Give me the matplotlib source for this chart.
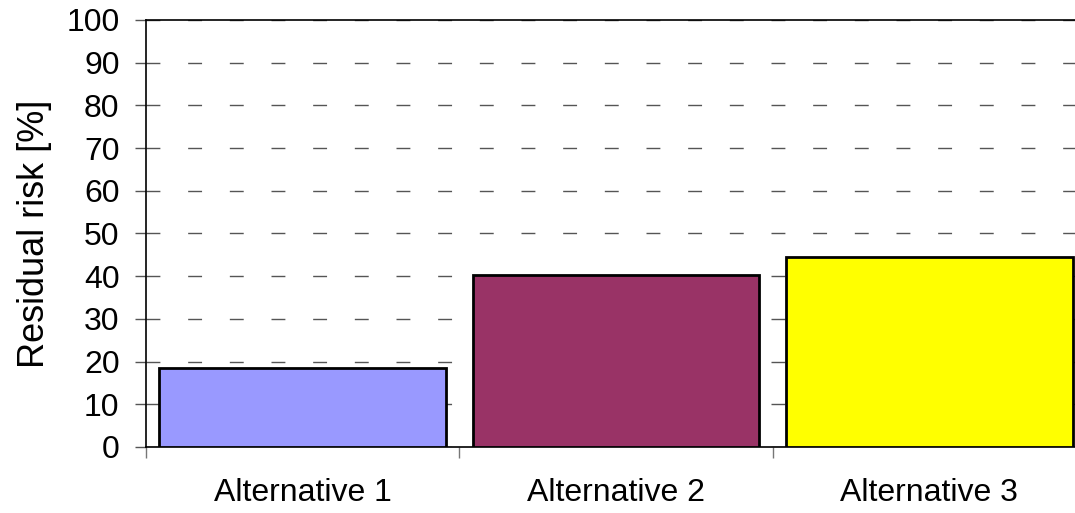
import matplotlib.pyplot as plt
import numpy as np

plt.rcParams['font.family'] = ['Liberation Sans', 'DejaVu Sans']

categories = ['Alternative 1', 'Alternative 2', 'Alternative 3']
residual_risk = [18.4, 40.3, 44.6]
bar_colors = ['#9999FF', '#993366', '#FFFF00']

fig = plt.figure(figsize=(10.75, 5.13), dpi=100)
# plot area runs slightly past the right edge of the canvas
ax = fig.add_axes([146 / 1075, 66 / 513, 940 / 1075, 427 / 513])

x = np.arange(len(categories))
ax.bar(x, residual_risk, width=0.914, color=bar_colors, edgecolor='black',
       linewidth=2, zorder=3)

ax.set_xlim(-0.5, len(categories) - 0.5)
ax.set_ylim(0, 100)
ax.set_yticks(range(0, 101, 10))
ax.tick_params(axis='y', labelsize=23, length=8, width=1, color='#555555', pad=11)

# category labels centred under the bars, ticks on the boundaries
ax.set_xticks(x)
ax.set_xticklabels(categories, fontsize=23)
ax.tick_params(axis='x', length=0, pad=22)
ax.set_xticks(np.arange(-0.5, len(categories), 1), minor=True)
ax.tick_params(axis='x', which='minor', length=8, width=1, color='#777777')

ax.yaxis.grid(True, linestyle=(0, (10, 20)), color='#555555', linewidth=1, zorder=0)
ax.set_axisbelow(True)

ax.spines['right'].set_visible(False)
for side in ['left', 'bottom', 'top']:
    ax.spines[side].set_color('black')
    ax.spines[side].set_linewidth(1.2)

ax.set_ylabel('Residual risk [%]', fontsize=26)
ax.yaxis.set_label_coords(-0.1, 0.5)

fig.savefig('out.png', dpi=100)
